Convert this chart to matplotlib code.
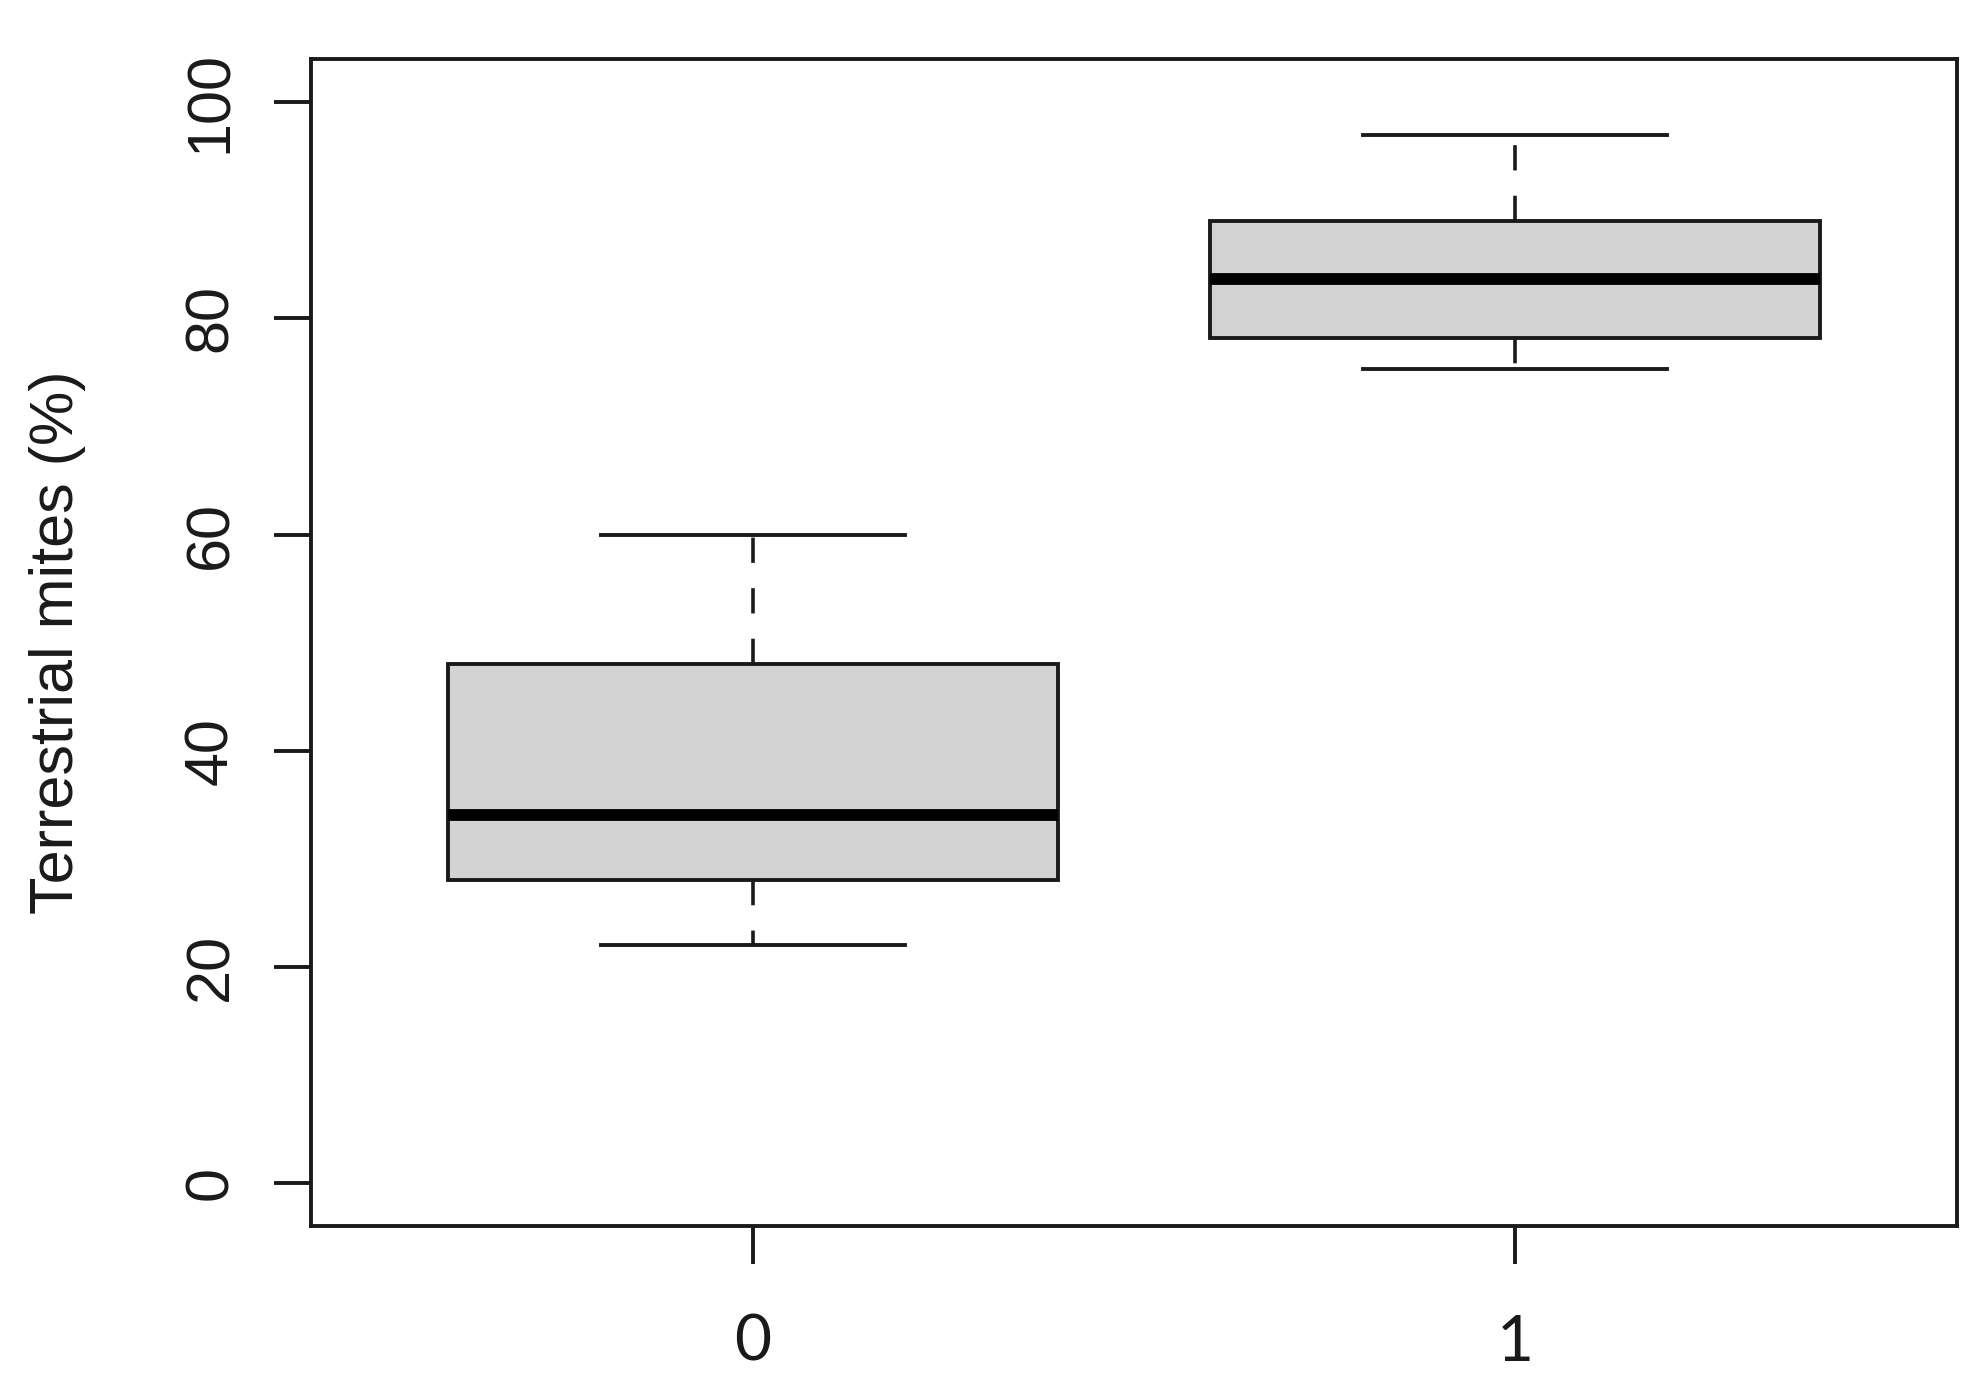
import matplotlib
matplotlib.use("Agg")
import matplotlib.pyplot as plt

# ---- data ----
categories = ["0", "1"]
whisker_low = [22.0, 75.3]
quartile1 = [28.0, 78.2]
medians = [34.0, 83.6]
quartile3 = [48.0, 89.0]
whisker_high = [60.0, 97.0]
y_ticks = [0, 20, 40, 60, 80, 100]
y_label = "Terrestrial mites (%)"

ink = "#1a1a1a"
plt.rcParams["font.family"] = ["Liberation Sans", "DejaVu Sans"]

fig = plt.figure(figsize=(19.76, 13.99), dpi=100)
ax = fig.add_axes([0.1574, 0.1236, 0.9904 - 0.1574, 0.9578 - 0.1236])

stats = []
for i, c in enumerate(categories):
    stats.append(dict(label=c, whislo=whisker_low[i], q1=quartile1[i],
                      med=medians[i], q3=quartile3[i], whishi=whisker_high[i],
                      fliers=[]))

positions = list(range(1, len(categories) + 1))
ax.bxp(stats, positions=positions, widths=0.8, capwidths=0.4,
       patch_artist=True, showfliers=False,
       boxprops=dict(facecolor="#d3d3d3", edgecolor=ink, linewidth=2.8),
       medianprops=dict(color="black", linewidth=8.5, solid_capstyle="butt"),
       whiskerprops=dict(color=ink, linewidth=2.6, linestyle=(0, (7, 7))),
       capprops=dict(color=ink, linewidth=2.8))

ax.set_xlim(0.42, len(categories) + 0.58)
ax.set_ylim(-4, 104)
ax.set_yticks(y_ticks)
ax.set_yticklabels([str(t) for t in y_ticks], rotation=90, va="center",
                   fontsize=44, color=ink)
ax.set_xticks(positions)
ax.set_xticklabels(categories, fontsize=46, color=ink,
                   fontfamily=["Lato", "DejaVu Sans"])

for s in ax.spines.values():
    s.set_linewidth(2.8)
    s.set_color(ink)

ax.tick_params(axis="y", length=27, width=2.8, color=ink, pad=24)
ax.tick_params(axis="x", length=27, width=2.8, color=ink, pad=36)

ax.set_ylabel(y_label, fontsize=44, color=ink)
ax.yaxis.set_label_coords(-0.137, 0.5)

fig.savefig("out.png", dpi=100, facecolor="white")
